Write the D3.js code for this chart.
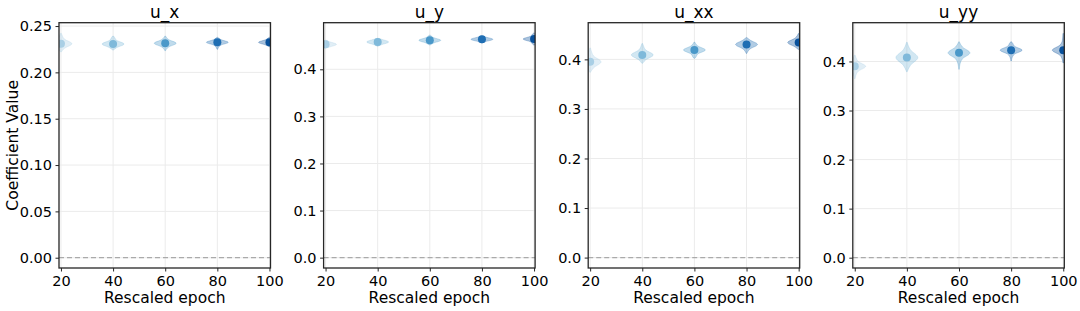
<!DOCTYPE html>
<meta charset="utf-8">
<style>
body { margin: 0; background: #fff; }
text { font-family: "DejaVu Sans", sans-serif; fill: #000; }
.grid line { stroke: #ebebeb; stroke-width: 1; }
.frame { fill: none; stroke: #262626; stroke-width: 1.3; }
.zero { stroke: #aaaaaa; stroke-width: 1.2; stroke-dasharray: 5,3; }
</style>
<svg width="1080" height="311"></svg>
<script src="https://d3js.org/d3.v7.min.js"></script>
<script>

var svg = d3.select("svg");

// epochs along the x axis, one violin each
var epochs = [20, 40, 60, 80, 100];
var titles = ["u_x", "u_y", "u_xx", "u_yy"];
var colors = ["#a9cfe5", "#7fb9da", "#4a98c9", "#1f6eb3", "#08519c"];

// y tick labels per panel
var ticksUx = [0, 0.05, 0.10, 0.15, 0.20, 0.25];
var ticksOther = [0, 0.1, 0.2, 0.3, 0.4];

// violin summaries: median, extremes, body half-height
var uxMedian = [0.2309, 0.2306, 0.2314, 0.2324, 0.2324];
var uxMin    = [0.2220, 0.2241, 0.2234, 0.2249, 0.2277];
var uxMax    = [0.2421, 0.2392, 0.2392, 0.2378, 0.2378];
var uxBody   = [0.005, 0.004, 0.004, 0.003, 0.003];

var uyMedian = [0.4530, 0.4580, 0.4616, 0.4637, 0.4643];
var uyMin    = [0.4450, 0.4490, 0.4516, 0.4560, 0.4516];
var uyMax    = [0.4620, 0.4660, 0.4730, 0.4707, 0.4770];
var uyBody   = [0.006, 0.006, 0.006, 0.005, 0.006];

var uxxMedian = [0.395, 0.409, 0.419, 0.430, 0.434];
var uxxMin    = [0.374, 0.392, 0.402, 0.412, 0.420];
var uxxMax    = [0.423, 0.432, 0.435, 0.444, 0.452];
var uxxBody   = [0.012, 0.010, 0.008, 0.009, 0.009];

var uyyMedian = [0.390, 0.408, 0.4175, 0.423, 0.423];
var uyyMin    = [0.365, 0.379, 0.384, 0.401, 0.397];
var uyyMax    = [0.413, 0.439, 0.440, 0.440, 0.457];
var uyyBody   = [0.010, 0.016, 0.012, 0.008, 0.010];

var panels = [
  { title: titles[0], med: uxMedian, lo: uxMin, hi: uxMax, body: uxBody, ticks: ticksUx, fmt: ".2f", dom: [-0.0111, 0.2536] },
  { title: titles[1], med: uyMedian, lo: uyMin, hi: uyMax, body: uyBody, ticks: ticksOther, fmt: ".1f", dom: [-0.022, 0.499] },
  { title: titles[2], med: uxxMedian, lo: uxxMin, hi: uxxMax, body: uxxBody, ticks: ticksOther, fmt: ".1f", dom: [-0.021, 0.474] },
  { title: titles[3], med: uyyMedian, lo: uyyMin, hi: uyyMax, body: uyyBody, ticks: ticksOther, fmt: ".1f", dom: [-0.021, 0.479] }
];

var plotTop = 22.7, plotBottom = 268, pw = 211.5, step = 264.6, left0 = 59;
var halfWidth = 4.2; // in epoch units

panels.forEach(function(p, i) {
  var left = left0 + i * step;
  var x = d3.scaleLinear().domain([19.25, 100.4]).range([left, left + pw]);
  var y = d3.scaleLinear().domain(p.dom).range([plotBottom, plotTop]);

  var g = svg.append("g");

  g.append("clipPath").attr("id", "clip" + i)
    .append("rect")
      .attr("x", left).attr("y", plotTop)
      .attr("width", pw).attr("height", plotBottom - plotTop);

  // grid
  var grid = g.append("g").attr("class", "grid");
  grid.selectAll(".gx").data(epochs).enter().append("line")
      .attr("x1", function(d) { return x(d); }).attr("x2", function(d) { return x(d); })
      .attr("y1", plotTop).attr("y2", plotBottom);
  grid.selectAll(".gy").data(p.ticks).enter().append("line")
      .attr("x1", left).attr("x2", left + pw)
      .attr("y1", function(d) { return y(d); }).attr("y2", function(d) { return y(d); });

  g.append("line").attr("class", "zero")
      .attr("x1", left).attr("x2", left + pw)
      .attr("y1", y(0)).attr("y2", y(0));

  // violins
  var vg = g.append("g").attr("clip-path", "url(#clip" + i + ")");
  epochs.forEach(function(e, j) {
    var m = p.med[j], s = p.body[j];
    var prof = [[p.lo[j], 0.03], [m - 2 * s, 0.08], [m - s, 0.32], [m, 1], [m + s, 0.32], [m + 2 * s, 0.08], [p.hi[j], 0.03]]
      .filter(function(d, k) { return k === 0 || k === 6 || (d[0] > p.lo[j] && d[0] < p.hi[j]); })
      .sort(function(a, b) { return a[0] - b[0]; });
    var area = d3.area()
        .y(function(d) { return y(d[0]); })
        .x0(function(d) { return x(e - halfWidth * d[1]); })
        .x1(function(d) { return x(e + halfWidth * d[1]); })
        .curve(d3.curveMonotoneY);
    vg.append("path")
        .datum(prof)
        .attr("d", area)
        .attr("fill", colors[j])
        .attr("fill-opacity", 0.35)
        .attr("stroke", colors[j])
        .attr("stroke-opacity", 0.35)
        .attr("stroke-width", 0.8);
    vg.append("circle")
        .attr("cx", x(e)).attr("cy", y(m)).attr("r", 4)
        .attr("fill", colors[j]);
  });

  g.append("rect").attr("class", "frame")
      .attr("x", left).attr("y", plotTop)
      .attr("width", pw).attr("height", plotBottom - plotTop);

  // axes
  var xa = g.append("g").attr("transform", "translate(0," + plotBottom + ")")
      .call(d3.axisBottom(x).tickValues(epochs).tickSize(3.5).tickPadding(4));
  var ya = g.append("g").attr("transform", "translate(" + left + ",0)")
      .call(d3.axisLeft(y).tickValues(p.ticks).tickSize(3.5).tickPadding(3.5).tickFormat(d3.format(p.fmt)));
  [xa, ya].forEach(function(a) {
    a.select(".domain").remove();
    a.selectAll(".tick line").attr("stroke", "#262626").attr("stroke-width", 1);
    a.selectAll("text").style("font-size", "14.5px").attr("fill", "#000");
  });

  g.append("text")
      .attr("x", left + pw / 2).attr("y", 18)
      .attr("text-anchor", "middle")
      .style("font-size", "17px")
      .text(p.title);

  g.append("text")
      .attr("x", left + pw / 2).attr("y", 303)
      .attr("text-anchor", "middle")
      .style("font-size", "15.5px")
      .text("Rescaled epoch");
});

svg.append("text")
    .attr("transform", "translate(17.5," + ((plotTop + plotBottom) / 2) + ") rotate(-90)")
    .attr("text-anchor", "middle")
    .style("font-size", "15.5px")
    .text("Coefficient Value");

</script>
